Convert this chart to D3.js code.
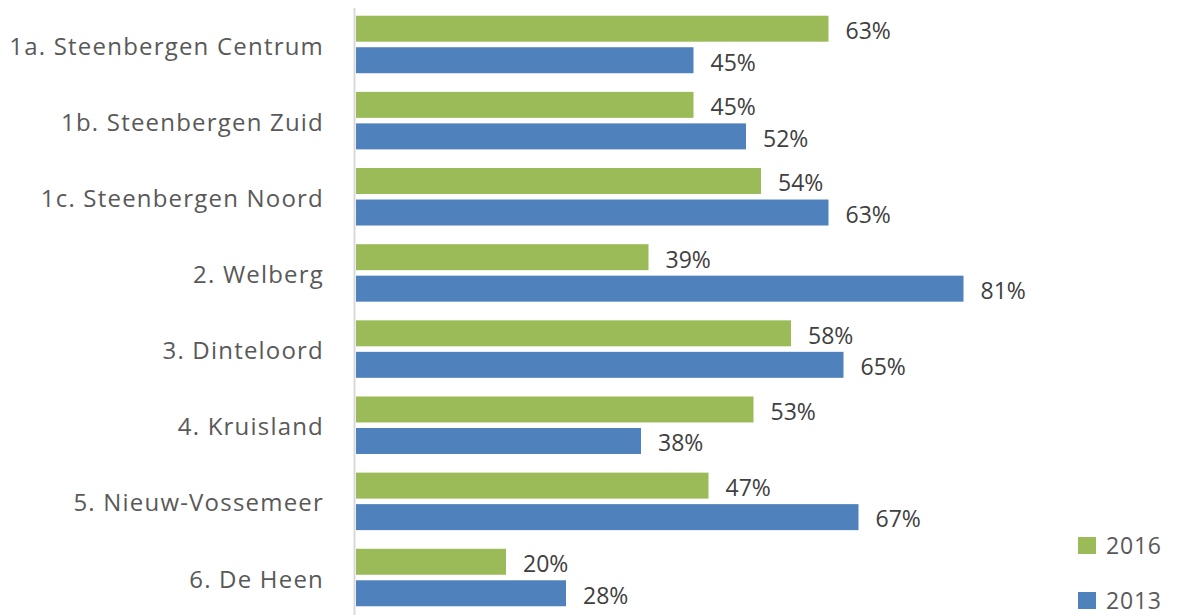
<!DOCTYPE html>
<html>
<head>
<meta charset="utf-8">
<script src="https://cdn.jsdelivr.net/npm/d3@7"></script>
<style>
  body { margin: 0; background: #fff; }
  text { font-family: "Open Sans", "Noto Sans", sans-serif; }
</style>
</head>
<body>
<div id="chartbox"></div>
<script>
const categories = ['1a. Steenbergen Centrum', '1b. Steenbergen Zuid', '1c. Steenbergen Noord',
  '2. Welberg', '3. Dinteloord', '4. Kruisland', '5. Nieuw-Vossemeer', '6. De Heen']
const seriesNames = ['2016', '2013']
const values2016 = [63, 45, 54, 39, 58, 53, 47, 20]
const values2013 = [45, 52, 63, 81, 65, 38, 67, 28]

const WIDTH = 1178
const HEIGHT = 615
const colors = {'2016': '#9BBB59', '2013': '#4F81BD'}

const svg = d3.select('#chartbox')
  .append('svg')
  .attr('width', WIDTH)
  .attr('height', HEIGHT)

const x = d3.scaleLinear()
  .domain([0, 100])
  .range([356, 1106])

const y = d3.scaleBand()
  .domain(categories)
  .range([6.4, 615.6])
  .paddingInner(0.245)
  .paddingOuter(0.1225)

const ySub = d3.scaleBand()
  .domain(seriesNames)
  .range([0, y.bandwidth()])
  .paddingInner(0.175)

const rows = categories.map((c, i) => ({
  cat: c,
  vals: [{s: '2016', v: values2016[i]}, {s: '2013', v: values2013[i]}]
}))

// category labels
svg.append('g')
  .selectAll('text')
  .data(categories)
  .enter()
  .append('text')
  .attr('x', 324)
  .attr('y', d => y(d) + y.bandwidth() / 2)
  .attr('dy', '0.42em')
  .attr('text-anchor', 'end')
  .attr('fill', '#595959')
  .style('font-size', '24px')
  .style('letter-spacing', '1.2px')
  .text(d => d)

const groups = svg.append('g')
  .selectAll('g')
  .data(rows)
  .enter()
  .append('g')
  .attr('transform', d => 'translate(0,' + y(d.cat) + ')')

groups.selectAll('rect')
  .data(d => d.vals)
  .enter()
  .append('rect')
  .attr('x', x(0))
  .attr('y', d => ySub(d.s))
  .attr('width', d => x(d.v) - x(0))
  .attr('height', ySub.bandwidth())
  .attr('fill', d => colors[d.s])

groups.selectAll('text')
  .data(d => d.vals)
  .enter()
  .append('text')
  .attr('x', d => x(d.v) + 17)
  .attr('y', d => ySub(d.s) + ySub.bandwidth() / 2)
  .attr('dy', '0.45em')
  .attr('fill', '#404040')
  .style('font-size', '23px')
  .text(d => d.v + '%')

// vertical axis line
svg.append('line')
  .attr('x1', 354.5)
  .attr('x2', 354.5)
  .attr('y1', 8)
  .attr('y2', HEIGHT)
  .attr('stroke', '#D9D9D9')
  .attr('stroke-width', 2)

// legend
const legend = svg.append('g')
  .selectAll('g')
  .data(seriesNames)
  .enter()
  .append('g')
  .attr('transform', (d, i) => 'translate(1078,' + (537 + i * 55) + ')')

legend.append('rect')
  .attr('width', 18)
  .attr('height', 17)
  .attr('fill', d => colors[d])

legend.append('text')
  .attr('x', 28)
  .attr('y', 9)
  .attr('dy', '0.36em')
  .attr('fill', '#595959')
  .style('font-size', '23px')
  .style('letter-spacing', '0.8px')
  .text(d => d)
</script>
</body>
</html>
